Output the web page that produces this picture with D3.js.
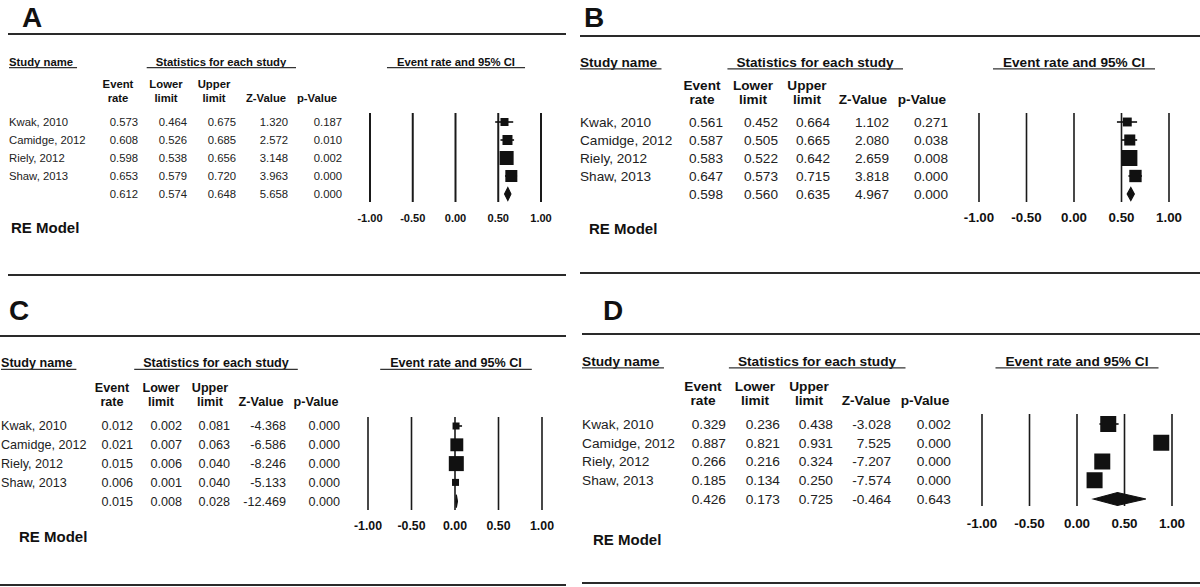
<!DOCTYPE html>
<html>
<head>
<meta charset="utf-8">
<script src="https://cdn.jsdelivr.net/npm/d3@7"></script>
<style>
  html, body { margin: 0; padding: 0; background: #fff; }
  svg { display: block; font-family: "Liberation Sans", Arial, sans-serif; }
</style>
</head>
<body>
<svg id="chart" width="1200" height="587"></svg>
<script>
// ---------------- data ----------------
const studies = ["Kwak, 2010", "Camidge, 2012", "Riely, 2012", "Shaw, 2013"];
const colHeadTop = ["Event", "Lower", "Upper", "", ""];
const colHeadBottom = ["rate", "limit", "limit", "Z-Value", "p-Value"];
const tickValues = [-1, -0.5, 0, 0.5, 1];
const tickLabels = ["-1.00", "-0.50", "0.00", "0.50", "1.00"];
const panelLetters = ["A", "B", "C", "D"];

// Panel A
const rateA  = [0.573, 0.608, 0.598, 0.653, 0.612];
const lowerA = [0.464, 0.526, 0.538, 0.579, 0.574];
const upperA = [0.675, 0.685, 0.656, 0.720, 0.648];
const zA     = [1.320, 2.572, 3.148, 3.963, 5.658];
const pA     = [0.187, 0.010, 0.002, 0.000, 0.000];
const weightA = [12.7, 19.8, 38.9, 28.6];
// Panel B
const rateB  = [0.561, 0.587, 0.583, 0.647, 0.598];
const lowerB = [0.452, 0.505, 0.522, 0.573, 0.560];
const upperB = [0.664, 0.665, 0.642, 0.715, 0.635];
const zB     = [1.102, 2.080, 2.659, 3.818, 4.967];
const pB     = [0.271, 0.038, 0.008, 0.000, 0.000];
const weightB = [13, 20, 42, 25];
// Panel C
const rateC  = [0.012, 0.021, 0.015, 0.006, 0.015];
const lowerC = [0.002, 0.007, 0.006, 0.001, 0.008];
const upperC = [0.081, 0.063, 0.040, 0.040, 0.028];
const zC     = [-4.368, -6.586, -8.246, -5.133, -12.469];
const pC     = [0.000, 0.000, 0.000, 0.000, 0.000];
const weightC = [10, 34, 46, 10];
// Panel D
const rateD  = [0.329, 0.887, 0.266, 0.185, 0.426];
const lowerD = [0.236, 0.821, 0.216, 0.134, 0.173];
const upperD = [0.438, 0.931, 0.324, 0.250, 0.725];
const zD     = [-3.028, 7.525, -7.207, -7.574, -0.464];
const pD     = [0.002, 0.000, 0.000, 0.000, 0.643];
const weightD = [25, 25, 25, 25];

const panelData = [
  {rate: rateA, lower: lowerA, upper: upperA, z: zA, p: pA, w: weightA},
  {rate: rateB, lower: lowerB, upper: upperB, z: zB, p: pB, w: weightB},
  {rate: rateC, lower: lowerC, upper: upperC, z: zC, p: pC, w: weightC},
  {rate: rateD, lower: lowerD, upper: upperD, z: zD, p: pD, w: weightD}
];

// ---------------- layout ----------------
const layouts = [
  {lx: 22, ly: 27, topY: 34, lineX: [8, 566], botY: 275, hdrY: 62, nameX: 9, statsCx: 221, ciCx: 456,
   hY1: 84, hY2: 98, colCx: [118, 166, 214, 266, 317], colR: [138, 187, 236, 288, 342],
   rowY0: 122, rowStep: 18, px: [370, 541], py: [113, 202], tickY: 218, reX: 11, reY: 228, fs: 11.3, maxSide: 14, vw: 2},
  {lx: 584, ly: 27, topY: 36, lineX: [580, 1200], botY: 273, hdrY: 62, nameX: 580, statsCx: 815, ciCx: 1074,
   hY1: 85, hY2: 99, colCx: [702, 753, 807, 863, 922], colR: [723, 778, 830, 889, 948],
   rowY0: 122, rowStep: 18, px: [979, 1169], py: [113, 202], tickY: 217, reX: 589, reY: 229, fs: 13.6, maxSide: 16, vw: 1.6},
  {lx: 9, ly: 320, topY: 336, lineX: [0, 566], botY: 585, hdrY: 363, nameX: 1, statsCx: 216, ciCx: 456,
   hY1: 388, hY2: 402, colCx: [112, 161, 210, 261, 316], colR: [133, 182, 230, 286, 340],
   rowY0: 426, rowStep: 18.8, px: [368, 542], py: [417, 510], tickY: 526, reX: 19, reY: 537, fs: 12.6, maxSide: 15, vw: 1.6},
  {lx: 603, ly: 320, topY: 334, lineX: [582, 1200], botY: 583, hdrY: 361, nameX: 582, statsCx: 817, ciCx: 1077,
   hY1: 386, hY2: 400, colCx: [703, 755, 809, 866, 925], colR: [726, 780, 833, 891, 951],
   rowY0: 424, rowStep: 18.75, px: [982, 1172], py: [414, 506], tickY: 523, reX: 593, reY: 540, fs: 13.7, maxSide: 16, vw: 1.6}
];

const svg = d3.select("#chart");
const locale = d3.formatLocale({decimal: ".", thousands: ",", grouping: [3], currency: ["", ""], minus: "-"});
const fmt = locale.format(".3f");
const ink = "#111";

panelData.forEach((d, i) => {
  const L = layouts[i];
  const g = svg.append("g");
  const fs = L.fs;

  // panel letter
  g.append("text").attr("x", L.lx).attr("y", L.ly).text(panelLetters[i])
    .attr("font-size", 28).attr("font-weight", "bold").attr("fill", ink);

  // separator lines
  [L.topY, L.botY].forEach(y => {
    g.append("line").attr("x1", L.lineX[0]).attr("x2", L.lineX[1]).attr("y1", y).attr("y2", y)
      .attr("stroke", "#2a2a2a").attr("stroke-width", 2);
  });

  // underlined headers
  const headers = [
    {t: "Study name", x: L.nameX, anchor: "start", padL: 0, padR: 4},
    {t: "Statistics for each study", x: L.statsCx, anchor: "middle", padL: 9, padR: 9},
    {t: "Event rate and 95% CI", x: L.ciCx, anchor: "middle", padL: 10, padR: 10}
  ];
  headers.forEach(h => {
    const t = g.append("text").attr("x", h.x).attr("y", L.hdrY).attr("dy", "0.35em")
      .attr("text-anchor", h.anchor).attr("font-size", fs).attr("font-weight", "bold")
      .attr("fill", ink).text(h.t);
    const bb = t.node().getBBox();
    g.append("line").attr("x1", bb.x - h.padL).attr("x2", bb.x + bb.width + h.padR)
      .attr("y1", L.hdrY + fs * 0.5).attr("y2", L.hdrY + fs * 0.5)
      .attr("stroke", "#333").attr("stroke-width", 1.3);
  });

  // column headers
  colHeadTop.forEach((t, c) => {
    if (t) g.append("text").attr("x", L.colCx[c]).attr("y", L.hY1).attr("dy", "0.35em")
      .attr("text-anchor", "middle").attr("font-size", fs).attr("font-weight", "bold").attr("fill", ink).text(t);
    g.append("text").attr("x", L.colCx[c]).attr("y", L.hY2).attr("dy", "0.35em")
      .attr("text-anchor", "middle").attr("font-size", fs).attr("font-weight", "bold").attr("fill", ink).text(colHeadBottom[c]);
  });

  // rows
  const rowY = k => L.rowY0 + k * L.rowStep;
  studies.forEach((s, k) => {
    g.append("text").attr("x", L.nameX).attr("y", rowY(k)).attr("dy", "0.35em")
      .attr("font-size", fs).attr("fill", "#222").text(s);
  });
  const cols = [d.rate, d.lower, d.upper, d.z, d.p];
  cols.forEach((arr, c) => {
    arr.forEach((v, k) => {
      g.append("text").attr("x", L.colR[c]).attr("y", rowY(k)).attr("dy", "0.35em")
        .attr("text-anchor", "end").attr("font-size", fs).attr("fill", "#222").text(fmt(v));
    });
  });

  // forest plot
  const x = d3.scaleLinear().domain([-1, 1]).range(L.px);
  const side = d3.scaleSqrt().domain([0, d3.max(d.w)]).range([0, L.maxSide]);

  tickValues.forEach((v, k) => {
    g.append("line").attr("x1", x(v)).attr("x2", x(v)).attr("y1", L.py[0]).attr("y2", L.py[1])
      .attr("stroke", "#1a1a1a").attr("stroke-width", L.vw);
    g.append("text").attr("x", x(v)).attr("y", L.tickY).attr("dy", "0.35em")
      .attr("text-anchor", "middle").attr("font-size", fs * 0.98).attr("font-weight", "bold")
      .attr("fill", ink).text(tickLabels[k]);
  });

  const n = studies.length;
  for (let k = 0; k < n; k++) {
    const y = rowY(k);
    g.append("line").attr("x1", x(d.lower[k])).attr("x2", x(d.upper[k])).attr("y1", y).attr("y2", y)
      .attr("stroke", "#111").attr("stroke-width", 1.6);
    const s = side(d.w[k]);
    g.append("rect").attr("x", x(d.rate[k]) - s / 2).attr("y", y - s / 2)
      .attr("width", s).attr("height", s).attr("fill", "#111");
  }
  // summary diamond
  const ys = rowY(n), hh = 6.5;
  g.append("path")
    .attr("d", `M${x(d.lower[n])},${ys}L${x(d.rate[n])},${ys - hh}L${x(d.upper[n])},${ys}L${x(d.rate[n])},${ys + hh}Z`)
    .attr("fill", "#111").attr("stroke", "#111").attr("stroke-width", 1.2);

  // RE Model label
  g.append("text").attr("x", L.reX).attr("y", L.reY).attr("dy", "0.35em")
    .attr("font-size", 15).attr("font-weight", "bold").attr("fill", ink).text("RE Model");
});
</script>
</body>
</html>
